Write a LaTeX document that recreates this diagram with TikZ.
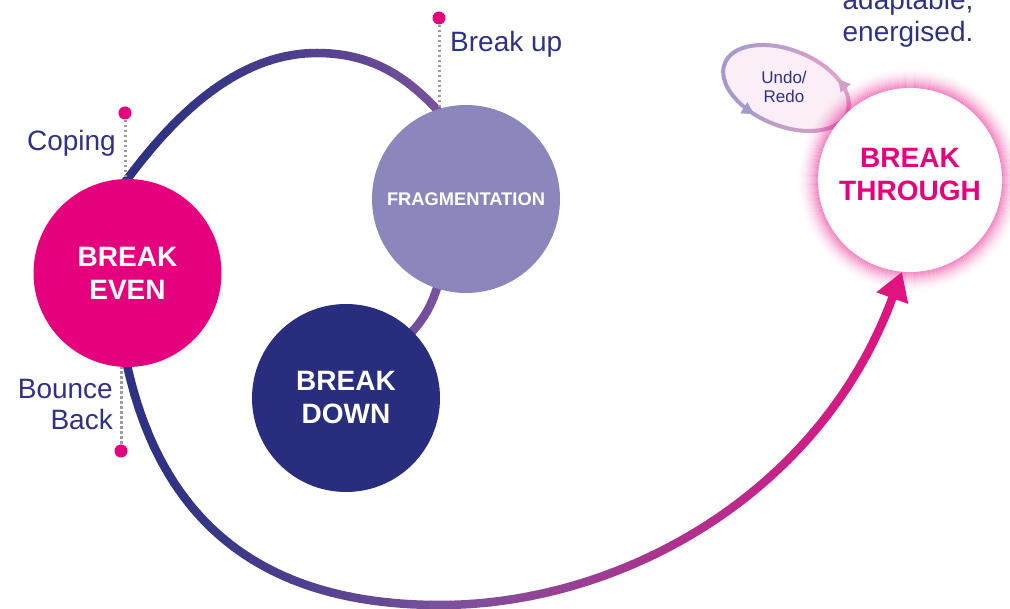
\documentclass[tikz,border=0pt]{standalone}
\usepackage{fontspec}
\setmainfont{Liberation Sans}
\usetikzlibrary{arrows.meta,decorations.markings}
\pgfdeclarelayer{background}
\pgfsetlayers{background,main}

\definecolor{brandpink}{HTML}{E5007E}
\definecolor{deepnavy}{HTML}{282D7E}
\definecolor{inknavy}{HTML}{2E3184}
\definecolor{lavender}{HTML}{8B87BC}
\definecolor{arcnavy}{HTML}{2E3183}
\definecolor{arcpurple}{HTML}{7A529C}
\definecolor{arcpink}{HTML}{E2127F}
\definecolor{dotgrey}{HTML}{9C9C9C}
\definecolor{loopfill}{HTML}{FBEEF6}
\definecolor{looplav}{HTML}{A29ACA}
\definecolor{looppink}{HTML}{E3A3CB}

\begin{document}
\begin{tikzpicture}[x=1pt,y=-1pt,
  stagecircle/.style={circle, inner sep=0pt, minimum size=188pt, align=center,
    font=\fontsize{28}{33}\selectfont\bfseries},
  sidenote/.style={inner sep=0pt, text=inknavy, font=\fontsize{28}{31}\selectfont},
  pindot/.style={circle, fill=brandpink, inner sep=0pt, minimum size=13pt},
  leaderline/.style={dotgrey, line width=3pt, dash pattern=on 2.8pt off 2.2pt},
  spiralstroke/.style={line width=8.5pt},
]
\useasboundingbox (0,0) rectangle (1010,609);

% ---- the four stages ----
\node[stagecircle, fill=brandpink, text=white] (be) at (127.5,273) {BREAK\\EVEN};
\node[stagecircle, fill=lavender, text=white,
      font=\fontsize{18.3}{22}\selectfont\bfseries] (fr) at (466,199) {FRAGMENTATION};
\node[stagecircle, fill=deepnavy, text=white] (bd) at (346,398) {BREAK\\DOWN};
\node[stagecircle, minimum size=184pt, fill=white] (bt) at (910,180) {};
\node[align=center, inner sep=0pt, text=brandpink,
      font=\fontsize{28}{33}\selectfont\bfseries] (btlabel) at (910,175) {BREAK\\THROUGH};

% ---- side notes with pins ----
\node[pindot] (dcope) at (125,113) {};
\node[pindot] (dbounce) at (121,451) {};
\node[pindot] (dbreak) at (439,18) {};
\node[sidenote, anchor=base east] (coping) at (116,151) {Coping};
\node[sidenote, anchor=north east, align=right] (bounce) at (113,379) {Bounce\\Back};
\node[sidenote, anchor=base west] (breakup) at (450,52) {Break up};
\node[sidenote, anchor=north, align=center, font=\fontsize{28}{32}\selectfont]
  (motto) at (908,-10.5) {adaptable,\\energised.};
\node[text=inknavy, align=center, inner sep=0pt, font=\fontsize{17}{19}\selectfont]
  (undo) at (784,87) {Undo/\\Redo};

\begin{pgfonlayer}{background}
  % ---- undo / redo loop ----
  \begin{scope}[shift={(786,88)}]
    \def\looppath{(61.2,24.7) .. controls (69.06,5.26) and (48.03,-21.58) .. (14.2,-35.2)
      .. controls (-19.57,-48.88) and (-53.34,-44.16) .. (-61.2,-24.7)
      .. controls (-69.06,-5.24) and (-48.03,21.58) .. (-14.2,35.2)
      .. controls (19.57,48.88) and (53.34,44.16) .. (61.2,24.7) -- cycle}
    \fill[loopfill] \looppath;
    \foreach \k in {0,...,14} {
      \pgfmathsetmacro\xa{-70+\k*10}
      \pgfmathsetmacro\mx{max(0,min(100,(\xa+65)/1.2))}
      \colorlet{loopcol}{looppink!\mx!looplav}
      \begin{scope}
        \clip (\xa,-60) rectangle ({\xa+11},60);
        \draw[loopcol, line width=4pt] \looppath;
      \end{scope}
    }
    \colorlet{looparrowR}{looppink!70!looplav}
    \path[decoration={markings,
        mark=at position 0.11 with {\arrow{Triangle[length=12pt,width=13pt,color=looparrowR]}},
        mark=at position 0.69 with {\arrow{Triangle[length=12pt,width=13pt,color=looplav]}}},
      postaction={decorate}] \looppath;
  \end{scope}

  % ---- glow round the break-through stage ----
  \foreach \i in {1,...,22} {
    \pgfmathsetmacro\op{0.42*(1-\i/23)^2}
    \pgfmathsetmacro\rr{91+\i}
    \draw[brandpink, opacity=\op, line width=1.3pt] (bt.center) circle[radius=\rr pt];
  }

  % ---- the spiral, coloured from navy through purple to pink ----
  \foreach \k in {0,...,42} {
    \pgfmathsetmacro\xa{110+\k*20}
    \pgfmathsetmacro\xm{\xa+10}
    \pgfmathsetmacro\ta{100*(max(0.001,min(1,(\xm-130)/310)))^1.4}
    \pgfmathsetmacro\tb{max(0,min(100,(\xm-440)/4.7))}
    \colorlet{stripA}{arcpurple!\ta!arcnavy}
    \colorlet{stripcol}{arcpink!\tb!stripA}
    \begin{scope}
      \clip (\xa,-20) rectangle ({\xa+21},630);
      \draw[spiralstroke, stripcol, shorten <=-6pt, shorten >=-6pt]
        (be.north) .. controls (165,128) and (230,53) .. (317,53)
        .. controls (375,53) and (410,80) .. (fr.108);
      \draw[spiralstroke, stripcol, shorten <=-6pt, shorten >=-6pt]
        (fr.252) .. controls (432.3,304.5) and (424.2,319) .. (bd.45);
      \draw[spiralstroke, stripcol, shorten <=-6pt, -{Triangle[length=28pt,width=32pt]}]
        (be.south) .. controls (160,520) and (260,605) .. (440,605)
        .. controls (620,605) and (820,495) .. (bt.-95);
    \end{scope}
  }

  % ---- dotted leaders ----
  \draw[leaderline] (dcope) -- (dcope |- be.north);
  \draw[leaderline] (dbounce) -- (dbounce |- be.south);
  \draw[leaderline] (dbreak) -- (dbreak |- fr.108);
\end{pgfonlayer}
\end{tikzpicture}
\end{document}
